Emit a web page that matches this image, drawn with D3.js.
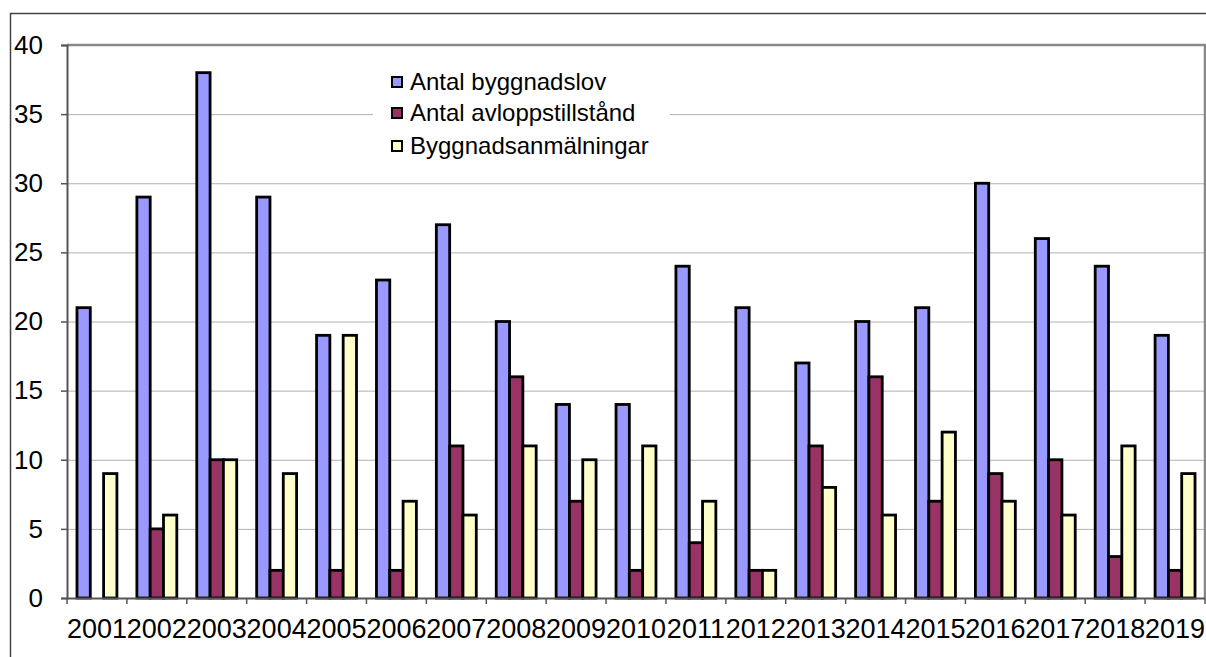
<!DOCTYPE html>
<html><head><meta charset="utf-8">
<script src="https://cdn.jsdelivr.net/npm/d3@7"></script>
<style>body{margin:0;background:#fff}svg{display:block}text{font-family:"Liberation Sans",Arial,sans-serif;fill:#000}</style>
</head><body>
<svg id="c" width="1206" height="657"></svg>
<script>
const years = ["2001","2002","2003","2004","2005","2006","2007","2008","2009","2010","2011","2012","2013","2014","2015","2016","2017","2018","2019"];
const byggnadslov = [21,29,38,29,19,23,27,20,14,14,24,21,17,20,21,30,26,24,19];
const avlopp = [0,5,10,2,2,2,11,16,7,2,4,2,11,16,7,9,10,3,2];
const anmalningar = [9,6,10,9,19,7,6,11,10,11,7,2,8,6,12,7,6,11,9];
const seriesNames = ["Antal byggnadslov","Antal avloppstillstånd","Byggnadsanmälningar"];
const seriesColors = ["#9999FF","#993366","#FFFFCC"];
const yTicks = [0,5,10,15,20,25,30,35,40];

const svg = d3.select("#c");
const L=67, R=1205, T=45, B=598;
// outer frame
svg.append("rect").attr("x",10.5).attr("y",13.5).attr("width",1205).attr("height",660)
  .attr("fill","none").attr("stroke","#444").attr("stroke-width",1.5);

const x = d3.scaleBand().domain(years).range([L,R]).paddingInner(0).paddingOuter(0);
const y = d3.scaleLinear().domain([0,40]).range([B,T]);
const bw = x.bandwidth()*40/60/3;
const off = x.bandwidth()*10/60;

// gridlines
svg.append("g").selectAll("line").data(yTicks.filter(d=>d>0&&d<40)).join("line")
  .attr("x1",L).attr("x2",R).attr("y1",d=>y(d)+0.5).attr("y2",d=>y(d)+0.5)
  .attr("stroke","#b0b0b0").attr("stroke-width",1);
// plot border top/right
svg.append("path").attr("d",`M${L},${T} H${R} V${B}`).attr("fill","none")
  .attr("stroke","#888").attr("stroke-width",2.5);

// bars
const data = [byggnadslov,avlopp,anmalningar];
data.forEach((arr,si)=>{
  svg.append("g").selectAll("rect").data(arr.map((v,i)=>({v,i})).filter(d=>d.v>0)).join("rect")
    .attr("x",d=>x(years[d.i])+off+si*bw)
    .attr("y",d=>y(d.v))
    .attr("width",bw)
    .attr("height",d=>B-y(d.v))
    .attr("fill",seriesColors[si]).attr("stroke","#000").attr("stroke-width",2.8);
});

// y axis
const ya = svg.append("g").attr("transform",`translate(${L},0)`)
  .call(d3.axisLeft(y).tickValues(yTicks).tickSize(6).tickPadding(18).tickFormat(d3.format("d")));
ya.select(".domain").attr("stroke","#555").attr("stroke-width",2);
ya.selectAll(".tick line").attr("stroke","#555").attr("stroke-width",1.5);
ya.selectAll("text").style("font-size","26px").attr("fill","#000");

// x axis
const xa = svg.append("g").attr("transform",`translate(0,${B})`)
  .call(d3.axisBottom(x).tickSize(0).tickPadding(21));
xa.select(".domain").attr("stroke","#555").attr("stroke-width",2);
xa.selectAll("text").style("font-size","27px").attr("fill","#000");
// x ticks at category boundaries
svg.append("g").selectAll("line").data(years.concat(["end"])).join("line")
  .attr("x1",(d,i)=>L+i*x.bandwidth()).attr("x2",(d,i)=>L+i*x.bandwidth())
  .attr("y1",B).attr("y2",B+6).attr("stroke","#555").attr("stroke-width",1.5);

// legend
const lg = svg.append("g");
lg.append("rect").attr("x",373).attr("y",62).attr("width",297).attr("height",100).attr("fill","#fff");
const rowsY = [82,113,146];
seriesNames.forEach((n,i)=>{
  lg.append("rect").attr("x",392).attr("y",rowsY[i]-5).attr("width",10).attr("height",10)
    .attr("fill",seriesColors[i]).attr("stroke","#000").attr("stroke-width",2);
  lg.append("text").attr("x",410).attr("y",rowsY[i]).attr("dy","0.35em").style("font-size","24px").text(n);
});
</script>
</body></html>
